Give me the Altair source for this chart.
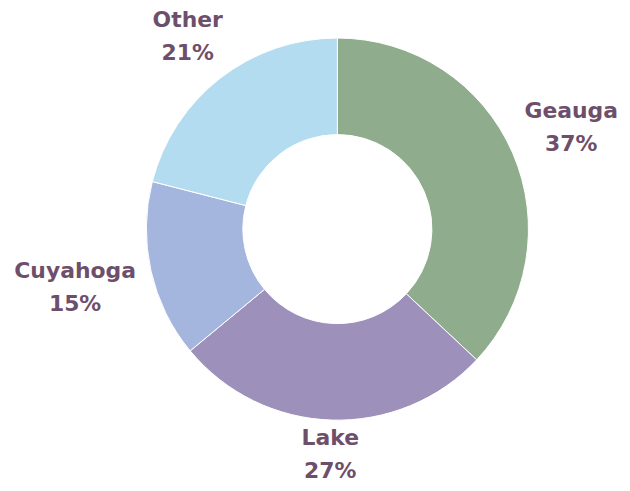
import altair as alt
import pandas as pd
import math

categories = ["Geauga", "Lake", "Cuyahoga", "Other"]
shares = [37, 27, 15, 21]
colors = ["#8fac8c", "#9d90bb", "#a5b6de", "#b3dcf0"]

OUTER = 192
INNER = 95
FONT_SIZE = 22
LINE_H = 33
CHAR_W = 15.5   # approx width per character at this font size
BLOCK_H = 42    # two-line label block height (effective)

df = pd.DataFrame({"cat": categories, "share": shares, "order": range(len(categories))})
df["label"] = df["cat"] + "\n" + df["share"].astype(str) + "%"

# label placement: clear the donut edge by a gap plus half the label box along the ray
total = sum(shares)
cum = 0
radii, mids = [], []
for s, c in zip(shares, categories):
    mid_val = cum + s / 2
    mid = mid_val / total * 2 * math.pi
    cum += s
    w = max(len(c), 3) * CHAR_W
    r = OUTER + 13 + 0.5 * w * abs(math.sin(mid)) + 0.5 * BLOCK_H * abs(math.cos(mid))
    radii.append(r)
    mids.append(mid_val)
df["lr"] = radii
df["mid"] = mids

theta_scale = alt.Scale(domain=[0, total])

arcs = alt.Chart(df).mark_arc(outerRadius=OUTER, innerRadius=INNER, stroke="white", strokeWidth=1).encode(
    theta=alt.Theta("share:Q", stack=True, scale=theta_scale),
    order=alt.Order("order:Q"),
    color=alt.Color("cat:N", scale=alt.Scale(domain=categories, range=colors), legend=None),
)

labels = alt.Chart(df).mark_text(
    font="DejaVu Sans", fontWeight="bold", fontSize=FONT_SIZE, color="#6e4f6b",
    lineBreak="\n", lineHeight=LINE_H, align="center", baseline="middle", dy=-LINE_H / 2
).encode(
    theta=alt.Theta("mid:Q", stack=False, scale=theta_scale),
    radius=alt.Radius("lr:Q", scale=None),
    text="label:N",
)

chart = alt.layer(arcs, labels).properties(
    width=572, height=442,
    autosize=alt.AutoSizeParams(type="none"),
    padding={"left": 45, "top": 0, "right": 0, "bottom": 33},
).configure_view(stroke=None).configure(background="white")

chart.save("out.html", embed_options={"renderer": "svg", "actions": False})
